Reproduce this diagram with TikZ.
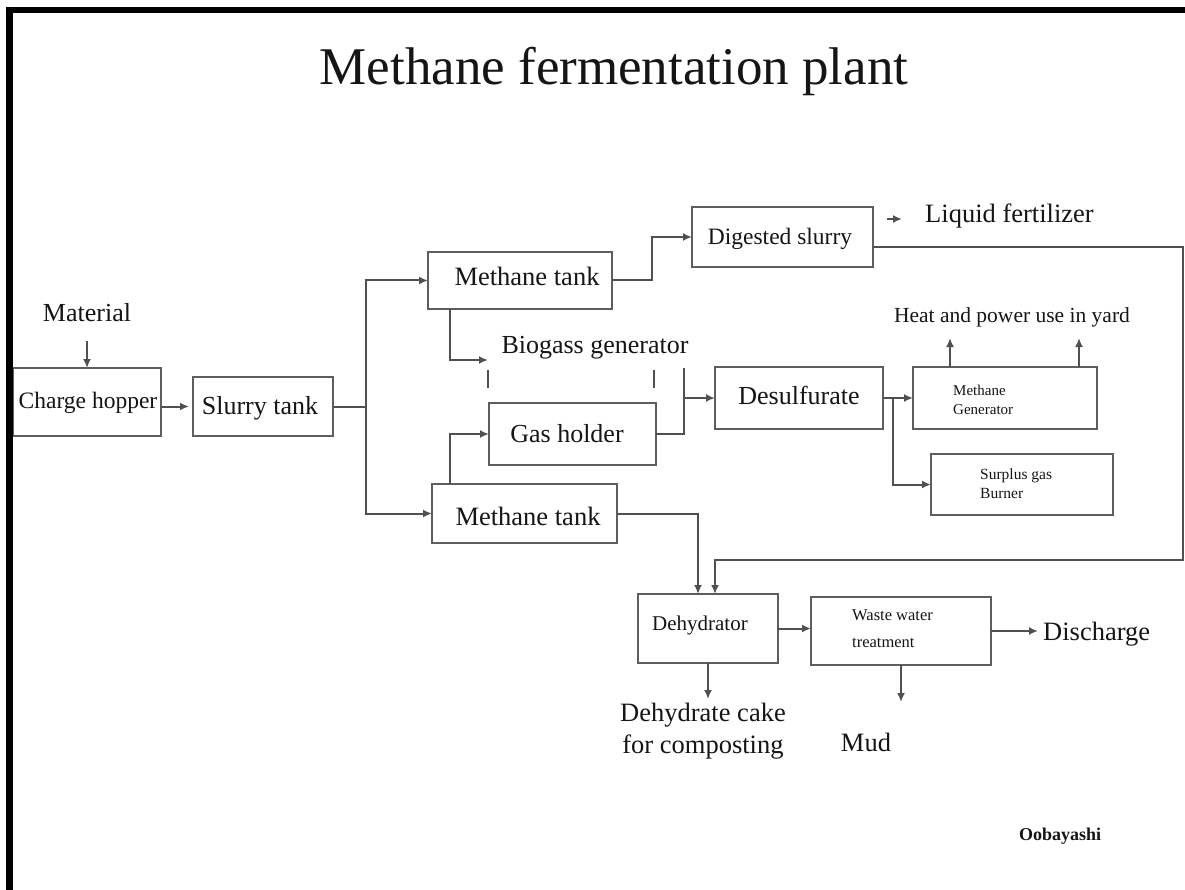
\documentclass[tikz,border=0pt]{standalone}
\usepackage{fontspec}
\setmainfont{Liberation Serif}
\usetikzlibrary{arrows.meta}
\definecolor{boxc}{HTML}{5E5E5E}
\definecolor{linec}{HTML}{505050}
\definecolor{txt}{HTML}{151515}
\newcommand\fsz[1]{\fontsize{#1pt}{#1pt}\selectfont}
\begin{document}
\begin{tikzpicture}[x=1pt,y=-1pt,
  box/.style={draw=boxc, line width=2pt, inner sep=0pt, outer sep=0pt, anchor=north west},
  lbl/.style={anchor=base, inner sep=0pt, text=txt},
  conn/.style={draw=linec, line width=2pt},
  arr/.style={conn, -{Latex[length=9pt,width=8pt]}}]
\useasboundingbox (0,0) rectangle (1185,890);
\fill[white] (0,0) rectangle (1185,890);

% title
\node[lbl] (title) at (614,85) {\fsz{53}Methane fermentation plant};

% boxes
\node[box, minimum width=148pt, minimum height=68pt] (hopper) at (13,368) {};
\node[box, minimum width=140pt, minimum height=59pt] (slurry) at (193,377) {};
\node[box, minimum width=184pt, minimum height=57pt] (mt1) at (428,252) {};
\node[box, minimum width=181pt, minimum height=60pt] (dig) at (692,207) {};
\node[box, minimum width=167pt, minimum height=62pt] (gas) at (489,403) {};
\node[box, minimum width=185pt, minimum height=59pt] (mt2) at (432,484) {};
\node[box, minimum width=168pt, minimum height=62pt] (desulf) at (715,367) {};
\node[box, minimum width=184pt, minimum height=62pt] (mgen) at (913,367) {};
\node[box, minimum width=182pt, minimum height=61pt] (surplus) at (931,454) {};
\node[box, minimum width=140pt, minimum height=69pt] (dehyd) at (638,594) {};
\node[box, minimum width=180pt, minimum height=68pt] (waste) at (811,597) {};

% texts
\node[lbl] (matT) at (87,322) {\fsz{26}Material};
\node[lbl] (hopperT) at (88,408) {\fsz{23.5}Charge hopper};
\node[lbl] (slurryT) at (260,414) {\fsz{26}Slurry tank};
\node[lbl] (mt1T) at (527,286) {\fsz{26.5}Methane tank};
\node[lbl] (digT) at (780,245) {\fsz{23.5}Digested slurry};
\node[lbl, anchor=base west] (lfT) at (925,223) {\fsz{26.5}Liquid fertilizer};
\node[lbl] (heatT) at (1012,323) {\fsz{21.5}Heat and power use in yard};
\node[lbl] (bgT) at (595,353) {\fsz{26}Biogass generator};
\node[lbl] (gasT) at (567,442) {\fsz{26}Gas holder};
\node[lbl] (mt2T) at (528,525) {\fsz{26.5}Methane tank};
\node[lbl] (desulfT) at (799,404) {\fsz{26}Desulfurate};
\node[lbl, anchor=base west] (mgenT1) at (953,395) {\fsz{15}Methane};
\node[lbl, anchor=base west] (mgenT2) at (953,414) {\fsz{15}Generator};
\node[lbl, anchor=base west] (surT1) at (980,479) {\fsz{15.5}Surplus gas};
\node[lbl, anchor=base west] (surT2) at (980,498) {\fsz{15.5}Burner};
\node[lbl] (dehydT) at (700,630) {\fsz{21}Dehydrator};
\node[lbl, anchor=base west] (wasteT1) at (852,620) {\fsz{16.5}Waste water};
\node[lbl, anchor=base west] (wasteT2) at (852,647) {\fsz{16.5}treatment};
\node[lbl, anchor=base west] (discT) at (1043,640) {\fsz{26.5}Discharge};
\node[lbl] (cakeT1) at (703,721) {\fsz{26.5}Dehydrate cake};
\node[lbl] (cakeT2) at (703,753) {\fsz{26.5}for composting};
\node[lbl] (mudT) at (866,751) {\fsz{26.5}Mud};
\node[lbl] (signT) at (1060,840) {\fsz{18}\bfseries Oobayashi};

% coordinates
\coordinate (matA) at (87,341);
\coordinate (bgIn) at (488,360);
\coordinate (gv) at (684,368);
\coordinate (loopC) at (1183,560);
\coordinate (din1) at (698,594);
\coordinate (din2) at (715,594);
\coordinate (lfA) at (887,219);
\coordinate (lfB) at (902,219);
\coordinate (tk1a) at (488,370);
\coordinate (tk1b) at (488,388);
\coordinate (tk2a) at (654,370);
\coordinate (tk2b) at (654,388);

% connectors
\draw[arr] (matA) -- (hopper.north);
\draw[arr, shorten >=4pt] (hopper.east |- slurry.west) -- (slurry.west);
\draw[conn] (slurry.east) -- ++(33,0) coordinate (split);
\draw[arr] (split) |- (mt1.west);
\draw[arr] (split) |- (mt2.west);
\draw[arr] (mt1.east) -- ++(40,0) |- (dig.west);
\draw[arr] (lfA) -- (lfB);
\draw[arr] ([yshift=-10pt]dig.east) -| (loopC) -| (din2);
\draw[arr] (mt2.east) -| (din1);
\draw[arr] ([xshift=-70pt]mt1.south) |- (bgIn);
\draw[conn] (tk1a) -- (tk1b);
\draw[conn] (tk2a) -- (tk2b);
\draw[arr] ([xshift=-74.5pt]mt2.north) |- (gas.west);
\draw[conn] (gas.east) -| (gv);
\draw[arr] (gv |- desulf.west) -- (desulf.west);
\draw[arr] (desulf.east) -- (mgen.west);
\draw[arr] ([xshift=10pt]desulf.east) |- (surplus.west);
\draw[arr] ([xshift=-55pt]mgen.north) -- ++(0,-29);
\draw[arr] ([xshift=74pt]mgen.north) -- ++(0,-29);
\draw[arr] (dehyd.east) -- (dehyd.east -| waste.west);
\draw[arr, shorten >=5pt] (waste.east) -- (waste.east -| discT.west);
\draw[arr] (dehyd.south) -- ++(0,36);
\draw[arr] (waste.south) -- ++(0,37);

% frame
\fill[black] (6,7) rectangle (13,890);
\fill[black] (6,7) rectangle (1185,13);
\end{tikzpicture}
\end{document}
